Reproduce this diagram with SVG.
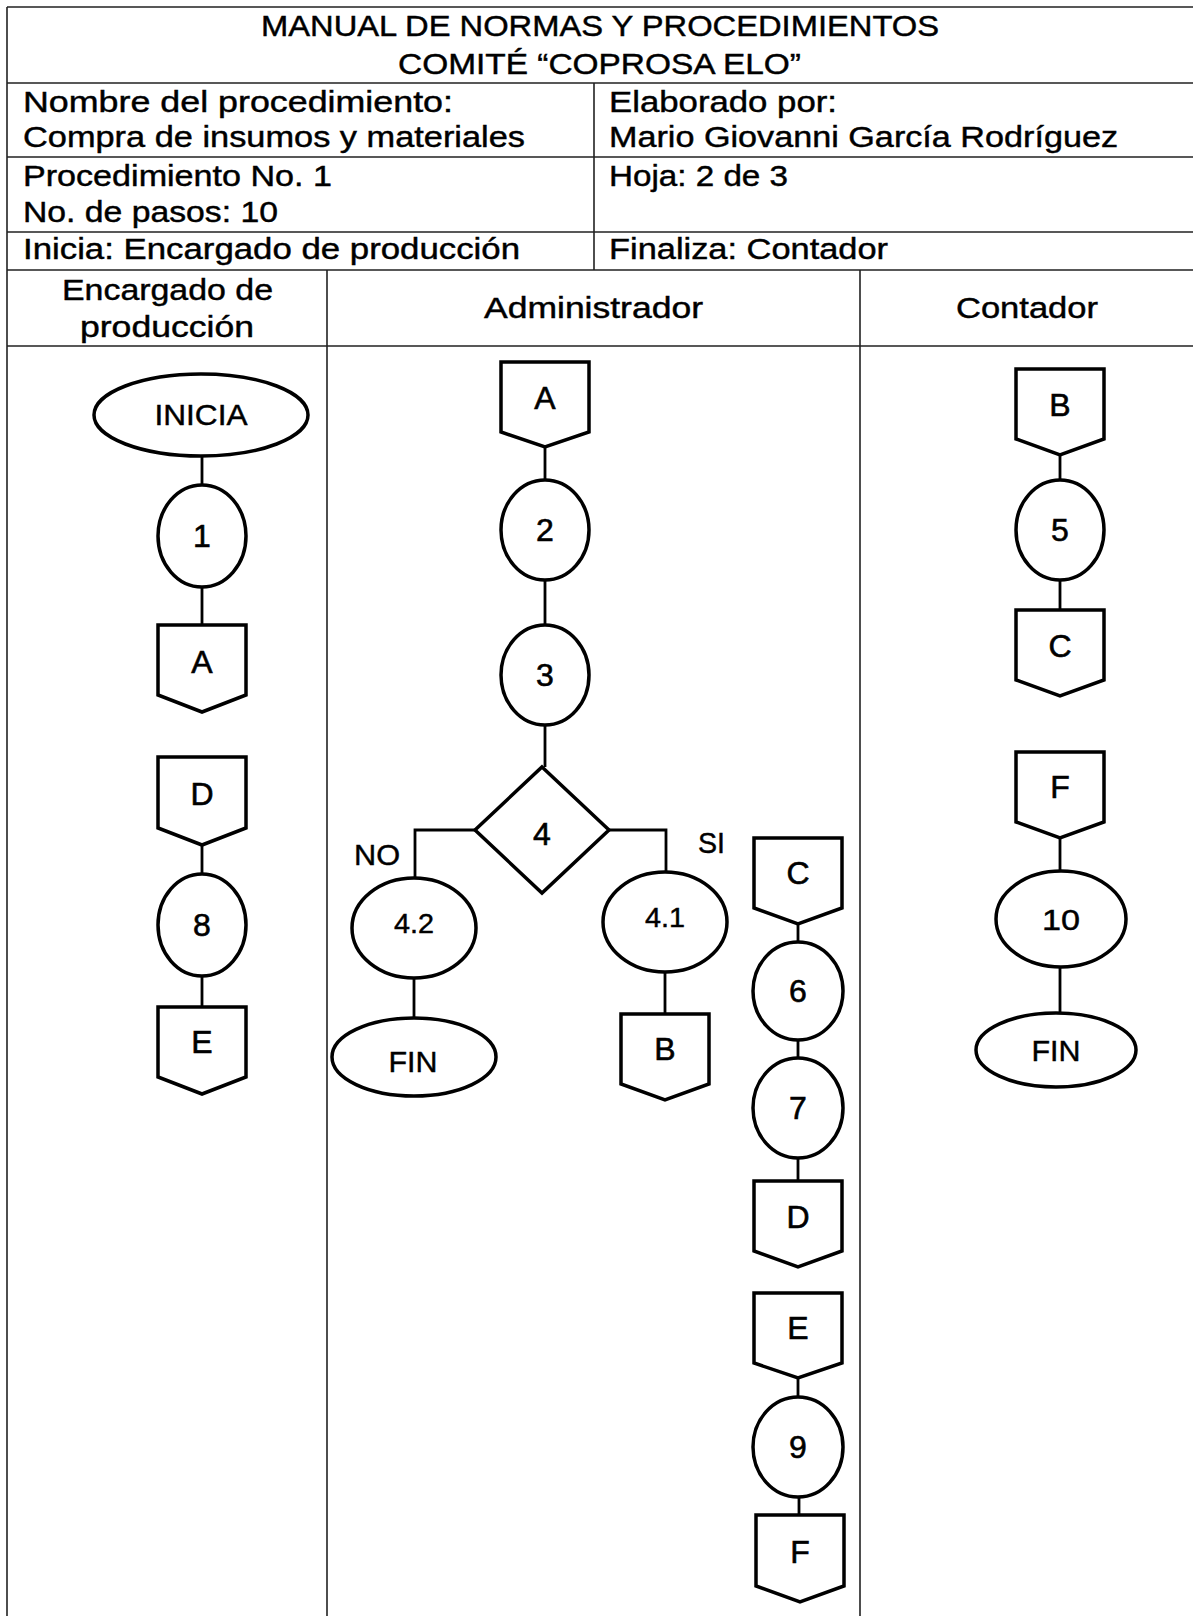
<svg xmlns="http://www.w3.org/2000/svg" width="1193" height="1616" viewBox="0 0 1193 1616">
<style>
.t{font-family:"Liberation Sans",Arial,sans-serif;font-size:30px;fill:#000;stroke:#000;stroke-width:0.45}
.c{text-anchor:middle}
.s{font-size:27px}
.b{font-size:32px;stroke-width:0.6}
.grid{stroke:#222;stroke-width:1.6;fill:none}
.shape{fill:#fff;stroke:#000;stroke-width:3.5;stroke-linejoin:miter}
.ln{stroke:#000;stroke-width:2.8;fill:none}
</style>
<rect width="1193" height="1616" fill="#fff"/>
<g id="table">
<path class="grid" d="M7,7 H1193 M7,83 H1193 M7,157 H1193 M7,232 H1193 M7,270 H1193 M7,346 H1193 M7,7 V1616 M594,83 V270 M327,270 V1616 M860,270 V1616"/>
<text class="t" x="261" y="36" textLength="678" lengthAdjust="spacingAndGlyphs">MANUAL DE NORMAS Y PROCEDIMIENTOS</text>
<text class="t" x="398" y="74" textLength="403" lengthAdjust="spacingAndGlyphs">COMITÉ “COPROSA ELO”</text>
<text class="t" x="23" y="112" textLength="430" lengthAdjust="spacingAndGlyphs">Nombre del procedimiento:</text>
<text class="t" x="23" y="147" textLength="502" lengthAdjust="spacingAndGlyphs">Compra de insumos y materiales</text>
<text class="t" x="609" y="112" textLength="228" lengthAdjust="spacingAndGlyphs">Elaborado por:</text>
<text class="t" x="609" y="147" textLength="509" lengthAdjust="spacingAndGlyphs">Mario Giovanni García Rodríguez</text>
<text class="t" x="23" y="186" textLength="309" lengthAdjust="spacingAndGlyphs">Procedimiento No. 1</text>
<text class="t" x="23" y="222" textLength="255" lengthAdjust="spacingAndGlyphs">No. de pasos: 10</text>
<text class="t" x="609" y="186" textLength="179" lengthAdjust="spacingAndGlyphs">Hoja: 2 de 3</text>
<text class="t" x="23" y="259" textLength="497" lengthAdjust="spacingAndGlyphs">Inicia: Encargado de producción</text>
<text class="t" x="609" y="259" textLength="279" lengthAdjust="spacingAndGlyphs">Finaliza: Contador</text>
<text class="t" x="62" y="300" textLength="211" lengthAdjust="spacingAndGlyphs">Encargado de</text>
<text class="t" x="80" y="337" textLength="174" lengthAdjust="spacingAndGlyphs">producción</text>
<text class="t" x="484" y="318" textLength="219" lengthAdjust="spacingAndGlyphs">Administrador</text>
<text class="t" x="956" y="318" textLength="142" lengthAdjust="spacingAndGlyphs">Contador</text>
</g>
<g id="connectors">
<path class="ln" d="M202,456 V485 M202,587 V625 M202,845 V874 M202,976 V1007"/>
<path class="ln" d="M545,447 V480 M545,580 V625 M545,725 V767 M475,830 H415 V878 M609,830 H666 V872 M414,978 V1018 M665,972 V1014"/>
<path class="ln" d="M798,924 V942 M798,1040 V1058 M798,1158 V1181 M798,1378 V1397 M799,1497 V1515"/>
<path class="ln" d="M1060,455 V480 M1060,580 V610 M1060,838 V871 M1060,967 V1013"/>
<text class="t" x="354" y="865" textLength="46" lengthAdjust="spacingAndGlyphs">NO</text>
<text class="t" x="698" y="853" textLength="27" lengthAdjust="spacingAndGlyphs">SI</text>
</g>
<g id="n-inicia"><ellipse class="shape" cx="201" cy="415" rx="107" ry="41"/><text class="t c" x="201" y="425" textLength="93" lengthAdjust="spacingAndGlyphs">INICIA</text></g>
<g id="n-1"><ellipse class="shape" cx="202" cy="536" rx="44" ry="51"/><text class="t c b" x="202" y="547">1</text></g>
<g id="n-A-out"><path class="shape" d="M158,625 H246 V695 L202,712 L158,695 Z"/><text class="t c b" x="202" y="673">A</text></g>
<g id="n-D-in"><path class="shape" d="M158,757 H246 V828 L202,845 L158,828 Z"/><text class="t c b" x="202" y="805">D</text></g>
<g id="n-8"><ellipse class="shape" cx="202" cy="925" rx="44" ry="51"/><text class="t c b" x="202" y="936">8</text></g>
<g id="n-E-out"><path class="shape" d="M158,1007 H246 V1077 L202,1094 L158,1077 Z"/><text class="t c b" x="202" y="1053">E</text></g>
<g id="n-A-in"><path class="shape" d="M501,362 H589 V432 L545,447 L501,432 Z"/><text class="t c b" x="545" y="409">A</text></g>
<g id="n-2"><ellipse class="shape" cx="545" cy="530" rx="44" ry="50"/><text class="t c b" x="545" y="541">2</text></g>
<g id="n-3"><ellipse class="shape" cx="545" cy="675" rx="44" ry="50"/><text class="t c b" x="545" y="686">3</text></g>
<g id="n-4"><path class="shape" d="M542,767 L609,830 L542,893 L475,830 Z"/><text class="t c b" x="542" y="845">4</text></g>
<g id="n-4-2"><ellipse class="shape" cx="414" cy="928" rx="62" ry="50"/><text class="t c s" x="414" y="933" textLength="40" lengthAdjust="spacingAndGlyphs">4.2</text></g>
<g id="n-fin-1"><ellipse class="shape" cx="414" cy="1057" rx="82" ry="39"/><text class="t c" x="413" y="1072" textLength="49" lengthAdjust="spacingAndGlyphs">FIN</text></g>
<g id="n-4-1"><ellipse class="shape" cx="665" cy="922" rx="62" ry="50"/><text class="t c s" x="665" y="927" textLength="40" lengthAdjust="spacingAndGlyphs">4.1</text></g>
<g id="n-B-out"><path class="shape" d="M621,1014 H709 V1084 L665,1100 L621,1084 Z"/><text class="t c b" x="665" y="1060">B</text></g>
<g id="n-C-in"><path class="shape" d="M754,838 H842 V908 L798,924 L754,908 Z"/><text class="t c b" x="798" y="884">C</text></g>
<g id="n-6"><ellipse class="shape" cx="798" cy="991" rx="45" ry="49"/><text class="t c b" x="798" y="1002">6</text></g>
<g id="n-7"><ellipse class="shape" cx="798" cy="1108" rx="45" ry="50"/><text class="t c b" x="798" y="1119">7</text></g>
<g id="n-D-out"><path class="shape" d="M754,1181 H842 V1251 L798,1267 L754,1251 Z"/><text class="t c b" x="798" y="1228">D</text></g>
<g id="n-E-in"><path class="shape" d="M754,1293 H842 V1363 L798,1378 L754,1363 Z"/><text class="t c b" x="798" y="1339">E</text></g>
<g id="n-9"><ellipse class="shape" cx="798" cy="1447" rx="45" ry="50"/><text class="t c b" x="798" y="1458">9</text></g>
<g id="n-F-out"><path class="shape" d="M756,1515 H844 V1586 L800,1602 L756,1586 Z"/><text class="t c b" x="800" y="1563">F</text></g>
<g id="n-B-in"><path class="shape" d="M1016,369 H1104 V439 L1060,455 L1016,439 Z"/><text class="t c b" x="1060" y="416">B</text></g>
<g id="n-5"><ellipse class="shape" cx="1060" cy="530" rx="44" ry="50"/><text class="t c b" x="1060" y="541">5</text></g>
<g id="n-C-out"><path class="shape" d="M1016,610 H1104 V680 L1060,696 L1016,680 Z"/><text class="t c b" x="1060" y="657">C</text></g>
<g id="n-F-in"><path class="shape" d="M1016,752 H1104 V822 L1060,838 L1016,822 Z"/><text class="t c b" x="1060" y="798">F</text></g>
<g id="n-10"><ellipse class="shape" cx="1061" cy="919" rx="65" ry="48"/><text class="t c" x="1061" y="930" textLength="38" lengthAdjust="spacingAndGlyphs">10</text></g>
<g id="n-fin-2"><ellipse class="shape" cx="1056" cy="1050" rx="80" ry="37"/><text class="t c" x="1056" y="1061" textLength="49" lengthAdjust="spacingAndGlyphs">FIN</text></g>
</svg>
